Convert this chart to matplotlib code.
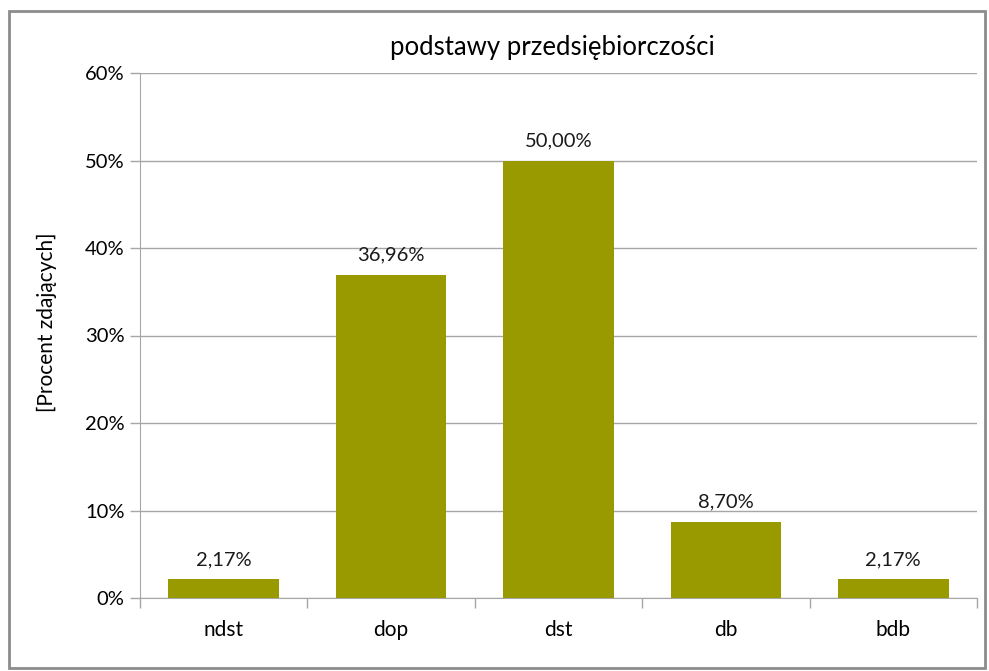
import matplotlib.pyplot as plt
from matplotlib.patches import Rectangle
from matplotlib.ticker import FuncFormatter, FixedLocator, NullFormatter

categories = ['ndst', 'dop', 'dst', 'db', 'bdb']
values = [2.17, 36.96, 50.00, 8.70, 2.17]
value_labels = ['2,17%', '36,96%', '50,00%', '8,70%', '2,17%']
title = 'podstawy przedsiębiorczości'
ylabel = '[Procent zdających]'

plt.rcParams['font.family'] = ['Lato', 'DejaVu Sans']

if __name__ == '__main__':
    fig = plt.figure(figsize=(9.89, 6.71), dpi=100)
    ax = fig.add_axes([140 / 989, 1 - 598 / 671, 837 / 989, 525 / 671])

    # outer chart frame
    fig.patches.append(Rectangle((9 / 989, 3 / 671), 976 / 989, 657 / 671,
                                 transform=fig.transFigure, fill=False,
                                 edgecolor='#8c8c8c', linewidth=2))

    x = range(len(categories))
    ax.bar(x, values, width=0.66, color='#999900', zorder=3)
    for xi, v, lab in zip(x, values, value_labels):
        ax.annotate(lab, (xi, v), xytext=(0, 8), textcoords='offset points',
                    ha='center', va='bottom', fontsize=14.5, color='#1a1a1a')

    ax.set_xlim(-0.5, len(categories) - 0.5)
    ax.set_ylim(0, 60)
    ax.set_yticks(range(0, 61, 10))
    ax.yaxis.set_major_formatter(FuncFormatter(lambda v, p: f'{int(v)}%'))
    ax.grid(axis='y', color='#a6a6a6', linewidth=1, zorder=0)

    # category labels without ticks, boundary ticks without labels
    ax.set_xticks(list(x))
    ax.set_xticklabels(categories)
    ax.tick_params(axis='x', which='major', length=0, pad=16, labelsize=15)
    ax.xaxis.set_minor_locator(FixedLocator([i - 0.5 for i in range(len(categories) + 1)]))
    ax.xaxis.set_minor_formatter(NullFormatter())
    ax.tick_params(axis='x', which='minor', length=7, color='#a6a6a6', width=1)
    ax.tick_params(axis='y', length=7, color='#a6a6a6', width=1, labelsize=14.5, pad=4)

    for s in ['top', 'right']:
        ax.spines[s].set_visible(False)
    for s in ['left', 'bottom']:
        ax.spines[s].set_color('#a6a6a6')

    ax.set_ylabel(ylabel, fontsize=15)
    ax.yaxis.set_label_coords(-0.099, 0.525)
    fig.text(552 / 989, 1 - 47 / 671, title, ha='center', va='center', fontsize=18.5)

    fig.savefig('out.png', dpi=100)
